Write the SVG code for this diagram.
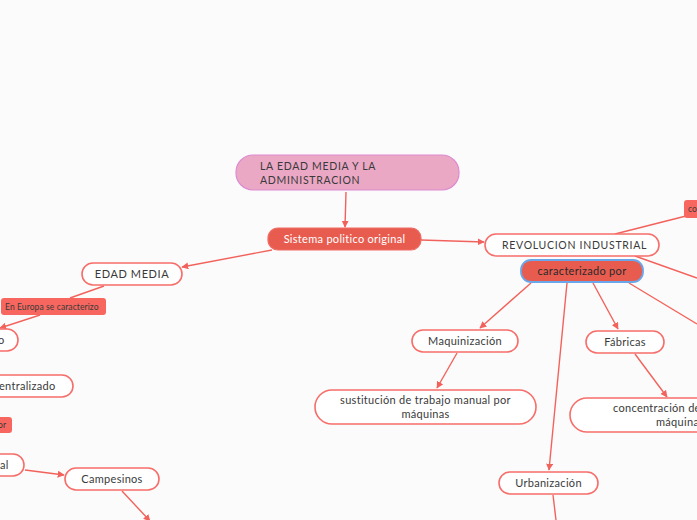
<svg xmlns="http://www.w3.org/2000/svg" width="697" height="520" viewBox="0 0 697 520">
<defs>
<marker id="ah" viewBox="0 0 10 10" refX="9" refY="5" markerWidth="7" markerHeight="7" orient="auto-start-reverse" markerUnits="userSpaceOnUse">
<path d="M0,0 L10,5 L0,10 z" fill="#f2625c"/>
</marker>
<style>
.ln{stroke:#f2625c;stroke-width:1.4;fill:none}
.w{fill:#ffffff;stroke:#f66e6a;stroke-width:1.6}
.r{fill:#e85c50;stroke:#f06a62;stroke-width:1.2}
.lb{fill:#f7675f}
.t{font-family:Lato,"Noto Sans","Liberation Sans",sans-serif;font-size:11px;letter-spacing:0.3px;fill:#3a3a3a}
.tc{text-anchor:middle}
.tw{fill:#ffffff}
.ts{font-size:8.5px;letter-spacing:0.1px}
</style>
</defs>
<rect width="697" height="520" fill="#fcfbfb"/>
<g id="connectors">
<line class="ln" x1="346" y1="192" x2="345" y2="227" marker-end="url(#ah)"/>
<line class="ln" x1="421" y1="240" x2="484" y2="242" marker-end="url(#ah)"/>
<line class="ln" x1="272" y1="250" x2="182" y2="267" marker-end="url(#ah)"/>
<line class="ln" x1="104" y1="286" x2="70" y2="298"/>
<line class="ln" x1="40" y1="315" x2="0" y2="328" marker-end="url(#ah)"/>
<line class="ln" x1="25" y1="470" x2="64" y2="475" marker-end="url(#ah)"/>
<line class="ln" x1="122" y1="491" x2="150" y2="521" marker-end="url(#ah)"/>
<line class="ln" x1="531" y1="283" x2="480" y2="328" marker-end="url(#ah)"/>
<line class="ln" x1="457" y1="353" x2="437" y2="388" marker-end="url(#ah)"/>
<line class="ln" x1="593" y1="283" x2="618" y2="329" marker-end="url(#ah)"/>
<line class="ln" x1="635" y1="354" x2="667" y2="397" marker-end="url(#ah)"/>
<line class="ln" x1="567" y1="283" x2="549" y2="470" marker-end="url(#ah)"/>
<line class="ln" x1="553" y1="495" x2="556" y2="520"/>
<line class="ln" x1="629" y1="283" x2="697" y2="324"/>
<line class="ln" x1="635" y1="256" x2="697" y2="278"/>
<line class="ln" x1="615" y1="234" x2="686" y2="216"/>
</g>
<g id="root">
<rect x="236" y="155" width="223" height="35" rx="17" fill="#eba8c5" stroke="#dd8ad2" stroke-width="1.2"/>
<text class="t" x="260" y="170" style="letter-spacing:0.7px;font-size:10.5px">LA EDAD MEDIA Y LA</text>
<text class="t" x="260" y="184" style="letter-spacing:0.7px;font-size:10.5px">ADMINISTRACION</text>
</g>
<g id="sistema">
<rect class="r" x="268" y="228" width="153" height="22" rx="10"/>
<text class="t tc tw" x="344.5" y="243">Sistema politico original</text>
</g>
<g id="revolucion">
<rect class="w" x="485" y="234" width="174" height="22" rx="11"/>
<text class="t" x="502" y="249" style="letter-spacing:0.7px;font-size:10.5px">REVOLUCION INDUSTRIAL</text>
</g>
<g id="caracterizado">
<rect x="521" y="260" width="122" height="22" rx="10" fill="#e85c50" stroke="#6aa6ea" stroke-width="1.8"/>
<text class="t tc" x="582" y="275" style="fill:#2a2a2a">caracterizado por</text>
</g>
<g id="co-label">
<rect class="lb" x="684" y="200" width="20" height="18" rx="3"/>
<text class="t ts" x="688" y="212">co</text>
</g>
<g id="edad-media">
<rect class="w" x="82" y="263" width="100" height="22" rx="11"/>
<text class="t tc" x="132" y="278" style="letter-spacing:0.6px">EDAD MEDIA</text>
</g>
<g id="europa-label">
<rect class="lb" x="1" y="298" width="105" height="17" rx="3"/>
<text class="t ts" x="5" y="310">En Europa se caracterizo</text>
</g>
<g id="node-o">
<rect class="w" x="-40" y="329" width="58" height="22" rx="11"/>
<text class="t" x="-2" y="344">o</text>
</g>
<g id="node-centralizado">
<rect class="w" x="-40" y="375" width="113" height="22" rx="11"/>
<text class="t" x="-1" y="390">entralizado</text>
</g>
<g id="or-label">
<rect class="lb" x="-10" y="417" width="22" height="16" rx="3"/>
<text class="t ts" x="-2" y="428">or</text>
</g>
<g id="node-al">
<rect class="w" x="-40" y="454" width="64" height="22" rx="11"/>
<text class="t" x="0" y="469">al</text>
</g>
<g id="campesinos">
<rect class="w" x="65" y="468" width="94" height="22" rx="11"/>
<text class="t tc" x="112" y="483">Campesinos</text>
</g>
<g id="maquinizacion">
<rect class="w" x="412" y="330" width="106" height="22" rx="11"/>
<text class="t tc" x="465" y="345">Maquinización</text>
</g>
<g id="sustitucion">
<rect class="w" x="315" y="390" width="221" height="34" rx="17"/>
<text class="t tc" x="425.5" y="404">sustitución de trabajo manual por</text>
<text class="t tc" x="425.5" y="418">máquinas</text>
</g>
<g id="fabricas">
<rect class="w" x="586" y="331" width="78" height="22" rx="11"/>
<text class="t tc" x="625" y="346">Fábricas</text>
</g>
<g id="concentracion">
<rect class="w" x="570" y="398" width="160" height="34" rx="17"/>
<text class="t" x="613" y="412">concentración de</text>
<text class="t" x="656" y="426">máquinas</text>
</g>
<g id="urbanizacion">
<rect class="w" x="499" y="472" width="99" height="22" rx="11"/>
<text class="t tc" x="548.5" y="487">Urbanización</text>
</g>
</svg>
